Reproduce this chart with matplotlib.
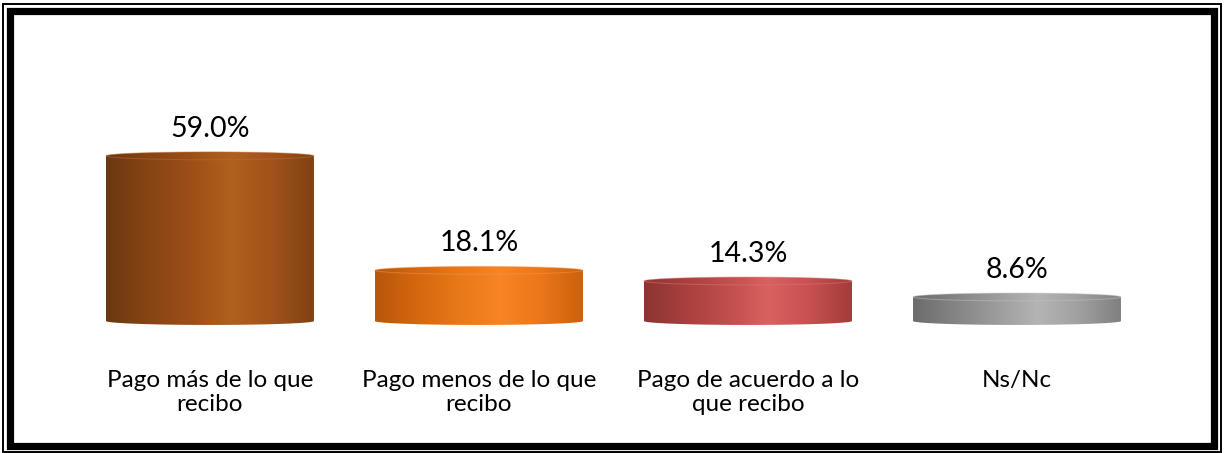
import numpy as np
import matplotlib
matplotlib.use("Agg")
import matplotlib.pyplot as plt
from matplotlib.colors import LinearSegmentedColormap
from matplotlib.patches import PathPatch, Ellipse, Rectangle
from matplotlib.path import Path

plt.rcParams['font.family'] = ['Lato', 'DejaVu Sans']

categories = ["Pago más de lo que\nrecibo", "Pago menos de lo que\nrecibo",
              "Pago de acuerdo a lo\nque recibo", "Ns/Nc"]
values = [59.0, 18.1, 14.3, 8.6]

# shades across each cylinder: left edge -> highlight -> right edge
shades = [
    ["#6a3810", "#874414", "#9c4e16", "#b0601e", "#a2521a", "#804212"],
    ["#b8560a", "#d4680e", "#e87818", "#f88424", "#ec7618", "#cc600c"],
    ["#8c3432", "#a8403e", "#c04e4c", "#d86260", "#c85050", "#a23c3a"],
    ["#6c6c6c", "#848484", "#9c9c9c", "#b4b4b4", "#a0a0a0", "#808080"],
]
rims = ["#b87040", "#f89850", "#e07878", "#c4c4c4"]

fig = plt.figure(figsize=(12.25, 4.53), dpi=100)
ax = fig.add_axes([0.0616, 0.2728, 0.8784, 0.618])

x = np.arange(len(values))
w = 0.773
cap = 1.4

for xi, v, sh, rim in zip(x, values, shades, rims):
    cmap = LinearSegmentedColormap.from_list("c", sh)
    t1 = np.linspace(np.pi, 2 * np.pi, 40)
    t2 = np.linspace(0, np.pi, 40)
    px = np.concatenate([xi + w / 2 * np.cos(t1), xi + w / 2 * np.cos(t2)])
    py = np.concatenate([cap * np.sin(t1), v + cap * np.sin(t2)])
    patch = PathPatch(Path(np.column_stack([px, py])), facecolor="none", edgecolor="none")
    ax.add_patch(patch)
    grad = np.linspace(0, 1, 256).reshape(1, -1)
    im = ax.imshow(grad, cmap=cmap, aspect="auto",
                   extent=[xi - w / 2, xi + w / 2, -cap, v + cap],
                   interpolation="bicubic", zorder=2)
    im.set_clip_path(patch)
    ax.add_patch(Ellipse((xi, v), w, 2 * cap, facecolor="none",
                         edgecolor=rim, lw=0.8, alpha=0.45, zorder=3))
    ax.annotate(f"{v:.1f}%", (xi, v + cap), xytext=(0, 15),
                textcoords="offset pixels", ha="center", va="baseline",
                fontsize=20.5, color="black")

ax.set_xlim(-0.5, len(values) - 0.5)
ax.set_ylim(-3, 97)
ax.set_xticks(x)
ax.set_xticklabels(categories, fontsize=17.5, linespacing=1.22)
ax.tick_params(axis="x", length=0, pad=29)
ax.set_yticks([])
for s in ax.spines.values():
    s.set_visible(False)

# double frame around the chart
W, H = 1225, 453
fig.add_artist(Rectangle((3 / W, 1 / H), (W - 7) / W, (H - 5) / H,
                         transform=fig.transFigure, fill=False,
                         edgecolor="black", lw=1.4))
fig.add_artist(Rectangle((9.5 / W, 7 / H), (1213.5 - 9.5) / W, (442 - 11 + 4) / H,
                         transform=fig.transFigure, fill=False,
                         edgecolor="black", lw=5.2))

fig.savefig("out.png", dpi=100)
